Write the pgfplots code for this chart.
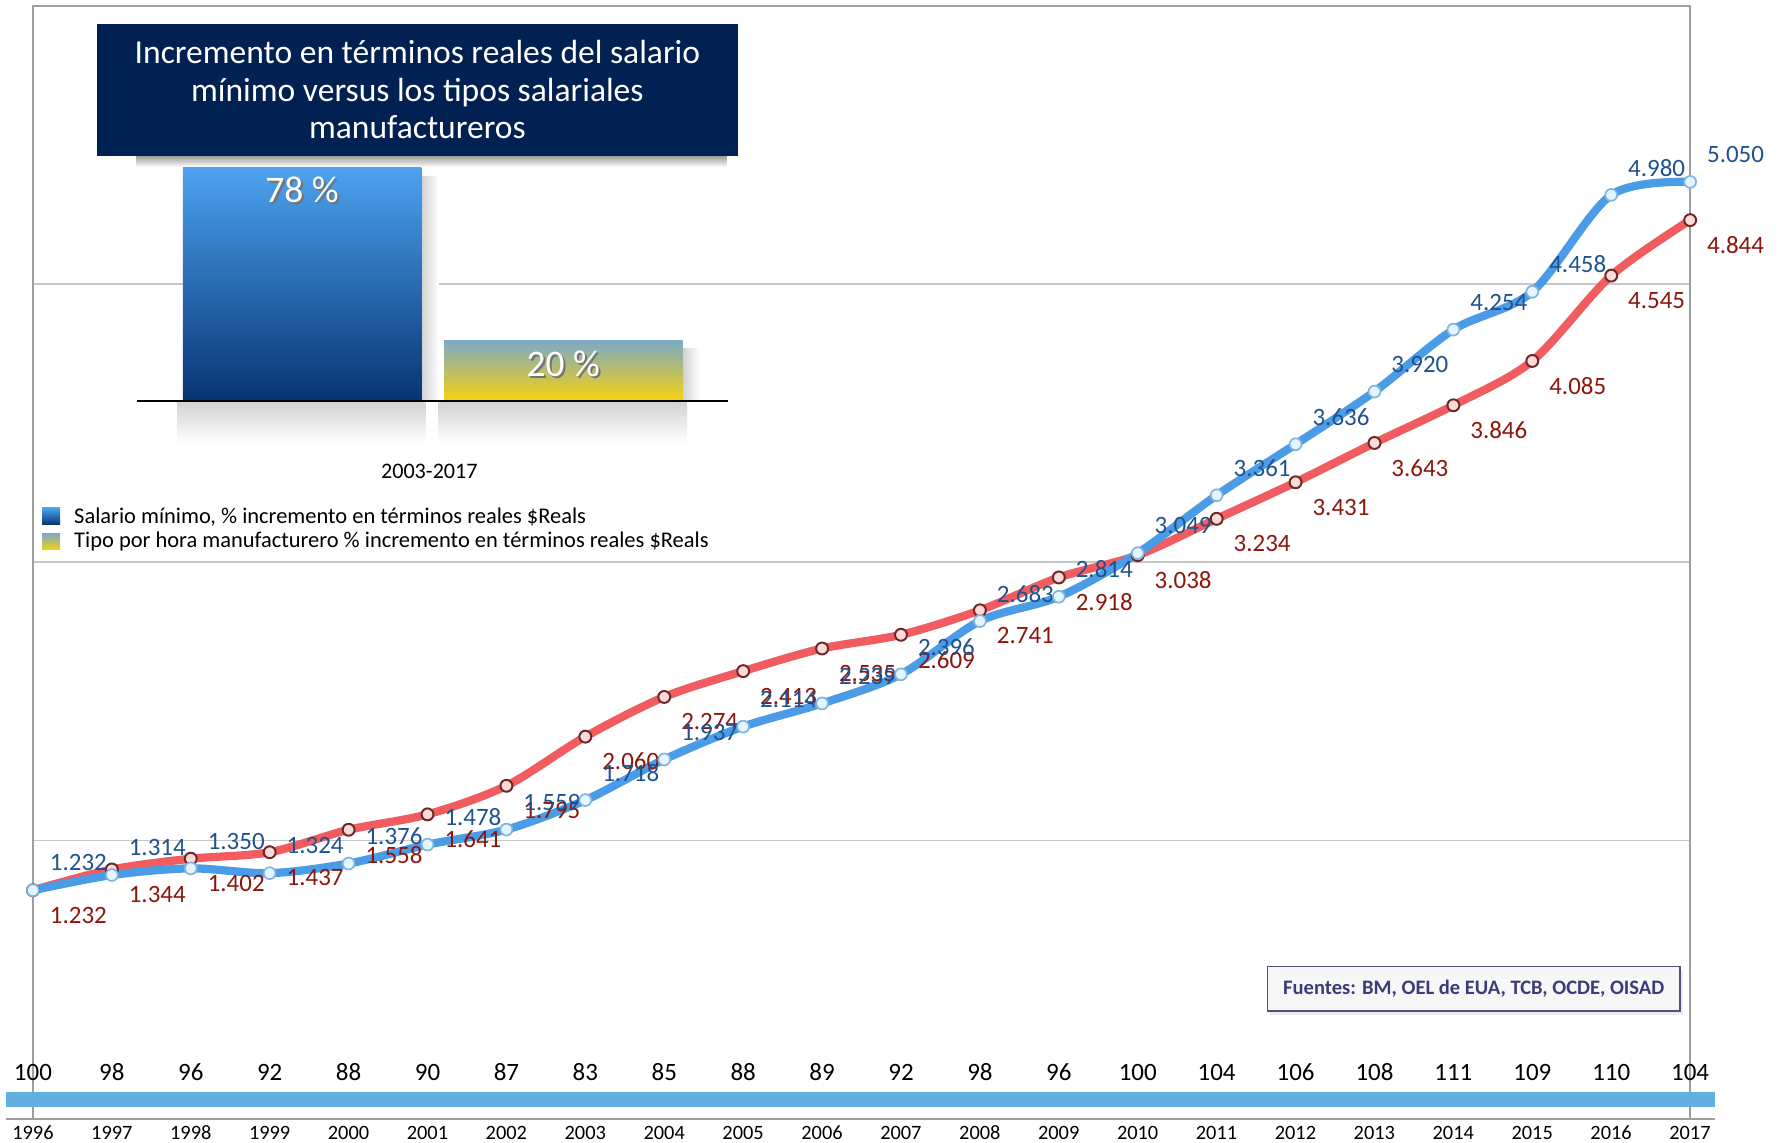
\documentclass[border=0pt]{standalone}
\usepackage{pgfplots}
\pgfplotsset{compat=1.18}
\usepackage{pgfplotstable}
\usepackage{fontspec}
\setmainfont{Carlito}
\usetikzlibrary{shadows}

\definecolor{navy}{RGB}{1,33,82}
\definecolor{lineblue}{RGB}{74,156,230}
\definecolor{linered}{RGB}{240,92,96}
\definecolor{lblblue}{RGB}{31,82,142}
\definecolor{lblred}{RGB}{140,22,12}
\definecolor{bandblue}{RGB}{98,176,224}
\definecolor{bluemarkfill}{RGB}{228,246,253}
\definecolor{bluemarkdraw}{RGB}{130,180,220}
\definecolor{redmarkfill}{RGB}{251,218,218}
\definecolor{redmarkdraw}{RGB}{110,40,40}
\definecolor{barblueTop}{RGB}{77,163,240}
\definecolor{barblueBot}{RGB}{6,52,115}
\definecolor{barylwTop}{RGB}{126,170,196}
\definecolor{barylwBot}{RGB}{246,210,14}
\definecolor{srcblue}{RGB}{60,60,120}

\pgfplotstableread{
year val
1996 1232
1997 1314
1998 1350
1999 1324
2000 1376
2001 1478
2002 1559
2003 1718
2004 1937
2005 2114
2006 2239
2007 2396
2008 2683
2009 2814
2010 3049
2011 3361
2012 3636
2013 3920
2014 4254
2015 4458
2016 4980
2017 5050
}\bluedata

\pgfplotstableread{
year val
1996 1232
1997 1344
1998 1402
1999 1437
2000 1558
2001 1641
2002 1795
2003 2060
2004 2274
2005 2413
2006 2535
2007 2609
2008 2741
2009 2918
2010 3038
2011 3234
2012 3431
2013 3643
2014 3846
2015 4085
2016 4545
2017 4844
}\reddata

\pgfplotstableread{
year band idx
1996 104 100
1997 104 98
1998 104 96
1999 104 92
2000 104 88
2001 104 90
2002 104 87
2003 104 83
2004 104 85
2005 104 88
2006 104 89
2007 104 92
2008 104 98
2009 104 96
2010 104 100
2011 104 104
2012 104 106
2013 104 108
2014 104 111
2015 104 109
2016 104 110
2017 104 104
}\idxdata

\begin{document}
\begin{tikzpicture}
\useasboundingbox (-5.8mm,-4.2mm) rectangle (307.8mm,197mm);

\begin{axis}[
  at={(0,0)}, anchor=south west,
  scale only axis, width=291.8mm, height=196mm,
  xmin=1996, xmax=2017, ymin=0, ymax=6000,
  xtick={1996,...,2017}, ytick={1500,3000,4500}, yticklabels={},
  ymajorgrids, grid style={draw=black!22, line width=0.3mm},
  axis line style={draw=black!38, line width=0.4mm},
  major tick length=0pt,
  xticklabel style={font=\fontsize{10.2}{12}\selectfont, /pgf/number format/1000 sep={}, /pgf/number format/assume math mode=true},
  clip=false,
]
\draw[black!38, line width=0.4mm] (axis cs:1995.655,0) -- (axis cs:2017.317,0);
\addplot[bandblue, line width=2.6mm, forget plot] coordinates {(1995.655,104) (2017.317,104)};
\addplot[draw=none, mark=none, point meta=explicit symbolic, nodes near coords,
  every node near coord/.append style={anchor=center, yshift=4.8mm, text=black, font=\fontsize{12.5}{14}\selectfont}]
  table[x=year, y=band, meta=idx] {\idxdata};

\addplot[linered, line width=1.45mm, smooth, tension=0.5, mark=*, mark size=1.05mm,
  mark options={fill=redmarkfill, draw=redmarkdraw, line width=0.35mm},
  point meta=y,
  nodes near coords={\pgfmathprintnumber[fixed, precision=0, 1000 sep={.}, assume math mode=true]{\pgfplotspointmeta}},
  every node near coord/.append style={anchor=center, xshift=8mm, yshift=-4.4mm, text=lblred, font=\fontsize{12.5}{14}\selectfont}
] table[x=year, y=val] {\reddata};

\addplot[lineblue, line width=1.45mm, smooth, tension=0.5, mark=*, mark size=1.05mm,
  mark options={fill=bluemarkfill, draw=bluemarkdraw, line width=0.3mm},
  point meta=y,
  nodes near coords={\pgfmathprintnumber[fixed, precision=0, 1000 sep={.}, assume math mode=true]{\pgfplotspointmeta}},
  every node near coord/.append style={anchor=center, xshift=8mm, yshift=4.8mm, text=lblblue, font=\fontsize{12.5}{14}\selectfont}
] table[x=year, y=val] {\bluedata};
\end{axis}

% shadows of inset
\shade[top color=black!40, bottom color=white] (18.2mm,169.6mm) rectangle (122.2mm,167.6mm);
\shade[top color=black!18, bottom color=white] (25.4mm,126.4mm) rectangle (69.2mm,119mm);
\shade[top color=black!18, bottom color=white] (71.4mm,126.4mm) rectangle (115.2mm,119mm);
\shade[left color=black!18, right color=white] (68.4mm,126.4mm) rectangle (71.4mm,166mm);
\shade[left color=black!18, right color=white] (114.4mm,126.4mm) rectangle (117.4mm,135.6mm);

\begin{axis}[
  at={(18.4mm,126.4mm)}, anchor=south west, scale only axis,
  width=104mm, height=42.24mm, xmin=0.3696, xmax=2.6305, ymin=0, ymax=80,
  hide axis, clip=false,
]
\addplot[ybar, bar width=42mm, bar shift=0pt, draw=none, top color=barblueTop, bottom color=barblueBot] coordinates {(1,78)};
\addplot[ybar, bar width=42mm, bar shift=0pt, draw=none, top color=barylwTop, bottom color=barylwBot] coordinates {(2,20)};
\draw[black, line width=0.5mm] (axis cs:0.3696,0) -- (axis cs:2.6305,0);
\addplot[draw=none, mark=none, point meta=y,
  nodes near coords={\pgfmathprintnumber[assume math mode=true]{\pgfplotspointmeta}\ \%},
  every node near coord/.append style={anchor=center, xshift=0.35mm, yshift=-4.35mm, text=black!55, font=\fontsize{18.8}{20}\selectfont}]
  coordinates {(1,78) (2,20)};
\addplot[draw=none, mark=none, point meta=y,
  nodes near coords={\pgfmathprintnumber[assume math mode=true]{\pgfplotspointmeta}\ \%},
  every node near coord/.append style={anchor=center, yshift=-4mm, text=white, font=\fontsize{18.8}{20}\selectfont}]
  coordinates {(1,78) (2,20)};
\end{axis}

\node[fill=navy, minimum width=113mm, minimum height=23.2mm, inner sep=0pt, text=white, align=center,
  font=\fontsize{16.8}{18.8}\selectfont] at (67.7mm,181.2mm)
  {Incremento en términos reales del salario\\mínimo versus los tipos salariales\\manufactureros};

\node[font=\fontsize{11.1}{13}\selectfont] at (69.8mm,114mm) {2003-2017};

\shade[top color=barblueTop, bottom color=barblueBot] (1.6mm,104.6mm) rectangle (4.8mm,107.6mm);
\shade[top color=barylwTop, bottom color=barylwBot] (1.6mm,100.2mm) rectangle (4.8mm,103mm);
\node[anchor=west, inner sep=0pt, font=\fontsize{11.25}{12}\selectfont] at (7.2mm,106mm) {Salario mínimo, \% incremento en términos reales \$Reals};
\node[anchor=west, inner sep=0pt, font=\fontsize{11.25}{12}\selectfont] at (7.2mm,101.6mm) {Tipo por hora manufacturero \% incremento en términos reales \$Reals};

\node[draw=srcblue!90, line width=0.3mm, fill=black!3, minimum width=72.6mm, minimum height=7.8mm, inner sep=0pt,
  text=srcblue, font=\bfseries\fontsize{10.3}{11}\selectfont,
  drop shadow={shadow xshift=0.5mm, shadow yshift=-0.7mm, opacity=0.15}] at (253.7mm,22.9mm)
  {Fuentes: BM, OEL de EUA, TCB, OCDE, OISAD};
\end{tikzpicture}
\end{document}
